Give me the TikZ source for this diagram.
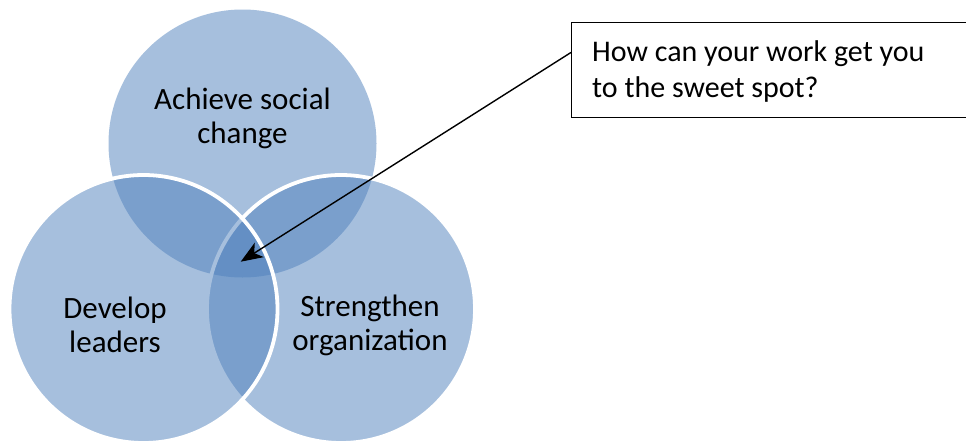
\documentclass[tikz,border=0pt]{standalone}
\usepackage{fontspec}
\setmainfont{Carlito}
\usetikzlibrary{arrows.meta,calc}
\definecolor{vennblue}{HTML}{4F81BD}
\begin{document}
\begin{tikzpicture}[x=1pt,y=-1pt,
  venn/.style={circle, minimum size=268pt, inner sep=0pt, outer sep=0pt, fill=vennblue, fill opacity=0.5},
  vennedge/.style={venn, draw=white, line width=3.8pt},
  lbl/.style={align=center, inner sep=0pt, font=\fontsize{31}{34}\selectfont},
  callbox/.style={draw=black, line width=1.4pt, rectangle, inner sep=0pt, minimum width=405pt, minimum height=95pt, anchor=north west},
  calltext/.style={align=left, inner sep=0pt, anchor=north west, font=\fontsize{30}{36.5}\selectfont},
  pointer/.style={-{Stealth[length=22pt,width=17pt,inset=6pt]}, line width=1.4pt, black}]
\clip (0,0) rectangle (966,447);
\fill[white] (0,0) rectangle (966,447);
% circles: top first, then right, then left
\node[venn] (top) at (242.5,143.5) {};
\node[vennedge] (right) at (341,309) {};
\node[vennedge] (left) at (143.5,309) {};
% labels
\node[lbl] (ltop) at (242.5,118) {Achieve social\\change};
\node[lbl] (lleft) at (115,325) {Develop\\leaders};
\node[lbl] (lright) at (370,325) {Strengthen\\organization};
% callout
\node[callbox] (callout) at (571,22) {};
\node[calltext] (question) at (592,40) {How can your work get you\\to the sweet spot?};
\coordinate (tail) at ($(callout.north west)!0.316!(callout.south west)$);
\coordinate (sweet) at (240.7,261.7);
\draw[pointer] (tail) -- (sweet);
\end{tikzpicture}
\end{document}
